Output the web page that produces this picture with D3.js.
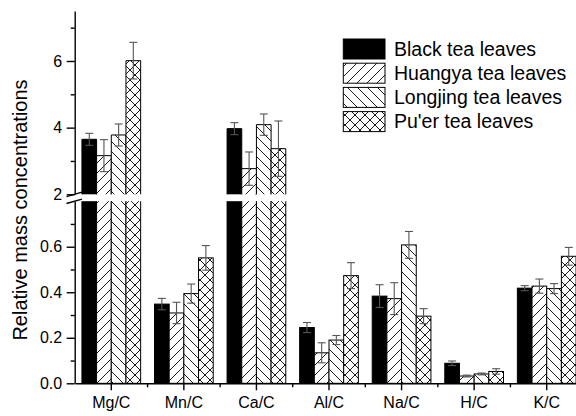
<!DOCTYPE html>
<html>
<head>
<meta charset="utf-8">
<script src="https://cdn.jsdelivr.net/npm/d3@7"></script>
<style>
  html, body { margin: 0; padding: 0; background: #fff; }
  svg { display: block; font-family: Arial, "Liberation Sans", Helvetica, sans-serif; }
</style>
</head>
<body>
<svg id="chart" width="576" height="416"></svg>
<script>
// Element-to-carbon ratios for four tea leaf types (mean and error)
const categories = ["Mg/C", "Mn/C", "Ca/C", "Al/C", "Na/C", "H/C", "K/C"];
const seriesNames = ["Black tea leaves", "Huangya tea leaves", "Longjing tea leaves", "Pu'er tea leaves"];

const blackValues    = [3.65, 0.348, 3.97, 0.245, 0.383, 0.088, 0.418];
const huangyaValues  = [3.16, 0.309, 2.77, 0.134, 0.372, 0.032, 0.427];
const longjingValues = [3.78, 0.394, 4.09, 0.190, 0.608, 0.041, 0.416];
const puerValues     = [6.01, 0.551, 3.37, 0.473, 0.295, 0.052, 0.558];

const blackErrors    = [0.18, 0.025, 0.18, 0.022, 0.050, 0.010, 0.011];
const huangyaErrors  = [0.48, 0.047, 0.50, 0.044, 0.070, 0.004, 0.031];
const longjingErrors = [0.33, 0.042, 0.32, 0.020, 0.059, 0.004, 0.022];
const puerErrors     = [0.55, 0.054, 0.83, 0.057, 0.033, 0.012, 0.039];

const upperMajorTicks = [2, 4, 6];
const upperMinorTicks = [3, 5, 7];
const lowerMajorTicks = [0, 0.2, 0.4, 0.6];
const lowerMinorTicks = [0.1, 0.3, 0.5, 0.7];

const yTitle = "Relative mass concentrations";

const seriesValues = [blackValues, huangyaValues, longjingValues, puerValues];
const seriesErrors = [blackErrors, huangyaErrors, longjingErrors, puerErrors];
const fills = ["#000", "url(#hatchUp)", "url(#hatchDown)", "url(#crossHatch)"];

const svg = d3.select("#chart");

// Fill patterns
const defs = svg.append("defs");
function hatch(id, dirs) {
  const p = defs.append("pattern").attr("id", id)
    .attr("patternUnits", "userSpaceOnUse").attr("width", 10).attr("height", 10);
  p.append("rect").attr("width", 10).attr("height", 10).attr("fill", "#fff");
  dirs.forEach(d => {
    const segs = d === "up"
      ? "M-1,1 L1,-1 M0,10 L10,0 M9,11 L11,9"
      : "M-1,9 L1,11 M0,0 L10,10 M9,-1 L11,1";
    p.append("path").attr("d", segs).attr("stroke", "#000").attr("stroke-width", 0.9).attr("fill", "none");
  });
}
hatch("hatchUp", ["up"]);
hatch("hatchDown", ["down"]);
hatch("crossHatch", ["up", "down"]);

// Scales: x bands per ratio, broken y axis with two segments
const x = d3.scaleBand().domain(categories).range([75, 583]).paddingInner(0.191).paddingOuter(0.0955);
const xs = d3.scaleBand().domain(seriesNames).range([0, x.bandwidth()]);
const yUpper = d3.scaleLinear().domain([2, 7.5]).range([194.3, 11]);
const yLower = d3.scaleLinear().domain([0, 0.8]).range([383.3, 201.2]);
const breakLow = 0.8, breakHigh = 2;

// Bars
const barsG = svg.append("g");
seriesNames.forEach((name, si) => {
  categories.forEach((cat, ci) => {
    const v = seriesValues[si][ci];
    const x0 = x(cat) + xs(name);
    const w = xs.bandwidth();
    if (v <= breakLow) {
      barsG.append("rect")
        .attr("x", x0).attr("y", yLower(v))
        .attr("width", w).attr("height", yLower(0) - yLower(v))
        .attr("fill", fills[si]).attr("stroke", "#000").attr("stroke-width", 1);
    } else {
      // lower segment (0 .. break)
      const yl0 = yLower(0), yl1 = yLower(breakLow);
      barsG.append("rect").attr("x", x0).attr("y", yl1).attr("width", w).attr("height", yl0 - yl1)
        .attr("fill", fills[si]);
      barsG.append("path")
        .attr("d", `M${x0},${yl1} L${x0},${yl0} L${x0 + w},${yl0} L${x0 + w},${yl1}`)
        .attr("fill", "none").attr("stroke", "#000").attr("stroke-width", 1);
      // upper segment (break .. value)
      const yu0 = yUpper(breakHigh), yu1 = yUpper(v);
      barsG.append("rect").attr("x", x0).attr("y", yu1).attr("width", w).attr("height", yu0 - yu1)
        .attr("fill", fills[si]);
      barsG.append("path")
        .attr("d", `M${x0},${yu0} L${x0},${yu1} L${x0 + w},${yu1} L${x0 + w},${yu0}`)
        .attr("fill", "none").attr("stroke", "#000").attr("stroke-width", 1);
    }
  });
});

// Error bars
const errG = svg.append("g").attr("stroke", "#555").attr("stroke-width", 1.1);
seriesNames.forEach((name, si) => {
  categories.forEach((cat, ci) => {
    const v = seriesValues[si][ci];
    const e = seriesErrors[si][ci];
    const y = v > breakLow ? yUpper : yLower;
    const cx = x(cat) + xs(name) + xs.bandwidth() / 2;
    const yt = y(v + e), yb = y(v - e);
    errG.append("line").attr("x1", cx).attr("x2", cx).attr("y1", yt).attr("y2", yb);
    [yt, yb].forEach(yy => errG.append("line")
      .attr("x1", cx - 4).attr("x2", cx + 4).attr("y1", yy).attr("y2", yy));
  });
});

// Y axes (upper and lower segments)
function yAxis(scale, major, minor) {
  const g = svg.append("g").attr("transform", "translate(74.7,0)");
  g.call(d3.axisLeft(scale).tickValues(major).tickSize(8).tickSizeOuter(0)
    .tickFormat(d => scale === yLower ? d3.format(".1f")(d) : d3.format("d")(d)));
  g.append("g").call(d3.axisLeft(scale).tickValues(minor).tickSize(4).tickFormat(""))
    .select(".domain").remove();
  g.selectAll("path, line").attr("stroke", "#000").attr("stroke-width", 1.4);
  g.selectAll("text").attr("font-size", 16).attr("fill", "#000")
    .attr("font-family", "Arial, 'Liberation Sans', sans-serif").attr("x", -12.5);
  return g;
}
yAxis(yUpper, upperMajorTicks, upperMinorTicks);
yAxis(yLower, lowerMajorTicks, lowerMinorTicks);

// Axis break marks
const brk = svg.append("g").attr("stroke", "#000").attr("stroke-width", 1.4);
[yUpper(breakHigh), yLower(breakLow)].forEach(yy => {
  brk.append("line").attr("x1", 66.5).attr("y1", yy + 2.3).attr("x2", 82).attr("y2", yy - 2.1);
});

// X axis
const xg = svg.append("g").attr("transform", `translate(0,${yLower(0)})`);
xg.call(d3.axisBottom(x).tickSize(7).tickSizeOuter(0));
xg.append("g").selectAll("line").data(d3.range(1, categories.length + 1)).join("line")
  .attr("x1", i => 75 + i * x.step()).attr("x2", i => 75 + i * x.step())
  .attr("y1", 0).attr("y2", 4);
xg.selectAll("path, line").attr("stroke", "#000").attr("stroke-width", 1.4);
xg.selectAll("text").attr("font-size", 16).attr("fill", "#000")
  .attr("font-family", "Arial, 'Liberation Sans', sans-serif").attr("y", 13.5);

// Y title
svg.append("text")
  .attr("transform", "translate(27,210) rotate(-90)")
  .attr("text-anchor", "middle")
  .attr("font-size", 20)
  .attr("fill", "#000")
  .text(yTitle);

// Legend
const lg = svg.append("g");
seriesNames.forEach((name, i) => {
  const top = 39 + i * 24.2;
  lg.append("rect").attr("x", 343.3).attr("y", top).attr("width", 41.7).attr("height", 20)
    .attr("fill", fills[i]).attr("stroke", "#000").attr("stroke-width", 1);
  lg.append("text").attr("x", 394).attr("y", top + 16.5)
    .attr("font-size", 19.5).attr("fill", "#000").text(name);
});
</script>
</body>
</html>
